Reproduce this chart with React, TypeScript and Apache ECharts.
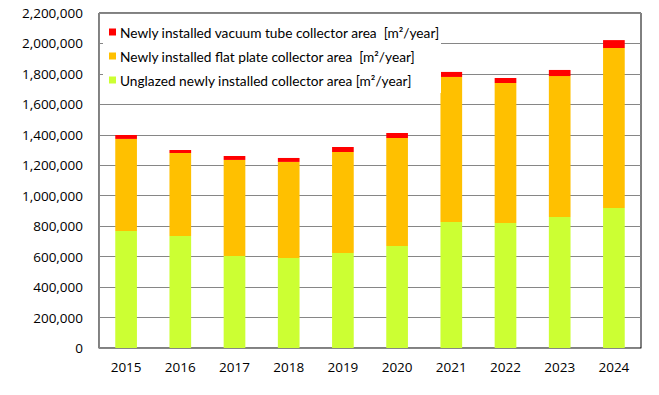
import React, { useEffect, useRef } from "react";
import * as echarts from "echarts";

const years = ["2015", "2016", "2017", "2018", "2019", "2020", "2021", "2022", "2023", "2024"];
const unglazed = [768000, 736000, 604000, 591000, 624000, 670000, 828000, 821000, 860000, 919000];
const flatPlate = [605000, 545000, 631000, 631000, 663000, 709000, 952000, 919000, 926000, 1051000];
const vacuumTube = [26000, 19000, 26000, 26000, 33000, 33000, 33000, 33000, 40000, 52000];

const nameVacuum = "Newly installed vacuum tube collector area  [m\u00b2/year]";
const nameFlat = "Newly installed flat plate collector area  [m\u00b2/year]";
const nameUnglazed = "Unglazed newly installed collector area [m\u00b2/year]";

const FONT = "Lato";
const AXIS_FONT = "Open Sans";

export default function App() {
  const ref = useRef<HTMLDivElement>(null);
  useEffect(() => {
    if (!ref.current) return;
    const chart = echarts.init(ref.current, undefined, { renderer: "svg" });
    chart.setOption({
      animation: false,
      backgroundColor: "#ffffff",
      textStyle: { fontFamily: FONT },
      grid: {
        left: 99,
        right: 18,
        top: 13,
        bottom: 47,
        show: true,
        borderColor: "#000000",
        borderWidth: 1,
        backgroundColor: "transparent",
      },
      graphic: [
        {
          type: "rect",
          z: 5,
          shape: { x: 103, y: 14, width: 338, height: 79 },
          style: { fill: "#ffffff" },
        },
      ],
      legend: {
        z: 10,
        orient: "vertical",
        left: 104,
        top: 20,
        itemWidth: 7,
        itemHeight: 7,
        itemGap: 10,
        icon: "rect",
        data: [nameVacuum, nameFlat, nameUnglazed],
        textStyle: { fontFamily: FONT, fontSize: 13.7, color: "#000000", padding: [0, 0, 0, -1] },
      },
      xAxis: {
        type: "category",
        data: years,
        axisLine: { lineStyle: { color: "#868686", width: 1 } },
        axisTick: { show: false },
        axisLabel: { color: "#000000", fontSize: 13.5, fontFamily: AXIS_FONT, margin: 12 },
      },
      yAxis: {
        type: "value",
        min: 0,
        max: 2200000,
        interval: 200000,
        axisLine: { show: true, lineStyle: { color: "#868686", width: 1 } },
        axisTick: { show: false },
        splitLine: { lineStyle: { color: "#868686", width: 1 } },
        axisLabel: {
          color: "#000000",
          fontSize: 13.5,
          fontFamily: AXIS_FONT,
          margin: 16,
          formatter: (v: number) => v.toLocaleString("en-US"),
        },
      },
      series: [
        {
          name: nameUnglazed,
          type: "bar",
          stack: "total",
          barWidth: "40%",
          itemStyle: { color: "#CCFF33" },
          data: unglazed,
        },
        {
          name: nameFlat,
          type: "bar",
          stack: "total",
          itemStyle: { color: "#FFC000" },
          data: flatPlate,
        },
        {
          name: nameVacuum,
          type: "bar",
          stack: "total",
          itemStyle: { color: "#FF0000" },
          data: vacuumTube,
        },
      ],
    });
    return () => chart.dispose();
  }, []);
  return <div ref={ref} style={{ width: 659, height: 395, position: "absolute", left: 0, top: 0 }} />;
}
